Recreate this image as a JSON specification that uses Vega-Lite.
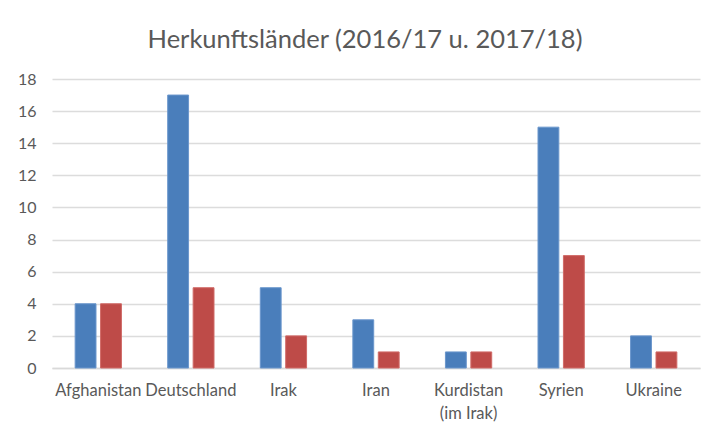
{
  "$schema": "https://vega.github.io/schema/vega-lite/v6.json",
  "width": 648,
  "height": 289,
  "autosize": {"type": "none"},
  "padding": {"left": 52, "top": 79, "right": 13, "bottom": 67},
  "background": "white",
  "title": {
    "text": "Herkunftsländer (2016/17 u. 2017/18)",
    "font": "Lato",
    "fontSize": 25.5,
    "fontWeight": "normal",
    "color": "#595959",
    "anchor": "middle",
    "dx": -11,
    "offset": 18
  },
  "data": {
    "values": [
      {"land": "Afghanistan", "jahr": "2016/17", "anzahl": 4},
      {"land": "Afghanistan", "jahr": "2017/18", "anzahl": 4},
      {"land": "Deutschland", "jahr": "2016/17", "anzahl": 17},
      {"land": "Deutschland", "jahr": "2017/18", "anzahl": 5},
      {"land": "Irak", "jahr": "2016/17", "anzahl": 5},
      {"land": "Irak", "jahr": "2017/18", "anzahl": 2},
      {"land": "Iran", "jahr": "2016/17", "anzahl": 3},
      {"land": "Iran", "jahr": "2017/18", "anzahl": 1},
      {"land": "Kurdistan (im Irak)", "jahr": "2016/17", "anzahl": 1},
      {"land": "Kurdistan (im Irak)", "jahr": "2017/18", "anzahl": 1},
      {"land": "Syrien", "jahr": "2016/17", "anzahl": 15},
      {"land": "Syrien", "jahr": "2017/18", "anzahl": 7},
      {"land": "Ukraine", "jahr": "2016/17", "anzahl": 2},
      {"land": "Ukraine", "jahr": "2017/18", "anzahl": 1}
    ]
  },
  "mark": {"type": "bar", "strokeWidth": 1},
  "encoding": {
    "x": {
      "field": "land",
      "type": "nominal",
      "sort": null,
      "scale": {"paddingInner": 0.5, "paddingOuter": 0.25},
      "axis": {
        "title": null,
        "labelAngle": 0,
        "ticks": false,
        "domain": true,
        "domainColor": "#d9d9d9",
        "domainWidth": 1.5,
        "labelFont": "Lato",
        "labelFontSize": 16.5,
        "labelColor": "#595959",
        "labelPadding": 14,
        "labelLineHeight": 23,
        "labelOverlap": false,
        "labelExpr": "datum.value == 'Kurdistan (im Irak)' ? ['Kurdistan', '(im Irak)'] : datum.value"
      }
    },
    "xOffset": {
      "field": "jahr",
      "type": "nominal",
      "scale": {"paddingInner": 0.18}
    },
    "y": {
      "field": "anzahl",
      "type": "quantitative",
      "scale": {"domain": [0, 18]},
      "axis": {
        "title": null,
        "values": [0, 2, 4, 6, 8, 10, 12, 14, 16, 18],
        "ticks": false,
        "domain": false,
        "gridColor": "#dcdcdc",
        "gridWidth": 1.5,
        "labelFont": "Lato",
        "labelFontSize": 16,
        "labelColor": "#595959",
        "labelPadding": 16
      }
    },
    "color": {
      "field": "jahr",
      "type": "nominal",
      "scale": {"domain": ["2016/17", "2017/18"], "range": ["#4a7ebb", "#be4b48"]},
      "legend": null
    },
    "stroke": {
      "field": "jahr",
      "type": "nominal",
      "scale": {"domain": ["2016/17", "2017/18"], "range": ["#6a96cc", "#d06a67"]},
      "legend": null
    }
  },
  "config": {"view": {"stroke": null}}
}
